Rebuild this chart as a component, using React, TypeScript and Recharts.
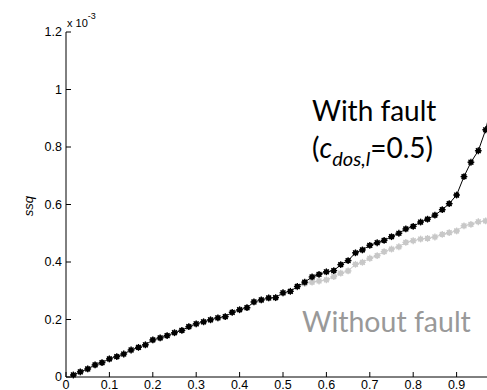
import React from 'react';
import { LineChart, Line, XAxis, YAxis } from 'recharts';

// x positions of the samples (fraction of the run)
const xValues = [
  0.017, 0.033, 0.05, 0.067, 0.083, 0.1, 0.117, 0.133, 0.15, 0.167,
  0.183, 0.2, 0.217, 0.233, 0.25, 0.267, 0.283, 0.3, 0.317, 0.333,
  0.35, 0.367, 0.383, 0.4, 0.417, 0.433, 0.45, 0.467, 0.483, 0.5,
  0.517, 0.533, 0.55, 0.567, 0.583, 0.6, 0.617, 0.633, 0.65, 0.667,
  0.683, 0.7, 0.717, 0.733, 0.75, 0.767, 0.783, 0.8, 0.817, 0.833,
  0.85, 0.867, 0.883, 0.9, 0.917, 0.933, 0.95, 0.967, 0.983, 1.0,
];

// ssq values, in units of 1e-3
const withFault = [
  0.007, 0.018, 0.028, 0.042, 0.05, 0.063, 0.071, 0.08, 0.094, 0.103,
  0.112, 0.129, 0.136, 0.144, 0.154, 0.162, 0.175, 0.185, 0.192, 0.199,
  0.206, 0.21, 0.225, 0.234, 0.241, 0.261, 0.268, 0.275, 0.276, 0.293,
  0.298, 0.315, 0.33, 0.348, 0.357, 0.366, 0.37, 0.391, 0.405, 0.432,
  0.442, 0.458, 0.467, 0.475, 0.488, 0.5, 0.515, 0.524, 0.539, 0.549,
  0.563, 0.582, 0.603, 0.633, 0.697, 0.747, 0.787, 0.86, 0.96, 1.05,
];

const withoutFault = [
  0.007, 0.018, 0.028, 0.042, 0.05, 0.063, 0.071, 0.08, 0.094, 0.103,
  0.112, 0.129, 0.136, 0.144, 0.154, 0.162, 0.175, 0.185, 0.192, 0.199,
  0.206, 0.21, 0.225, 0.234, 0.241, 0.261, 0.268, 0.275, 0.276, 0.293,
  0.298, 0.313, 0.325, 0.33, 0.334, 0.338, 0.349, 0.361, 0.369, 0.392,
  0.399, 0.413, 0.422, 0.436, 0.445, 0.453, 0.468, 0.474, 0.48, 0.482,
  0.487, 0.496, 0.502, 0.508, 0.526, 0.531, 0.54, 0.543, 0.548, 0.553,
];

// the 1.0 tick sits just past the right edge of the picture
const xTicks = [0, 0.1, 0.2, 0.3, 0.4, 0.5, 0.6, 0.7, 0.8, 0.9];
const yTicks = [0, 0.2, 0.4, 0.6, 0.8, 1, 1.2];

const data = xValues.map((x, i) => ({
  x,
  fault: withFault[i],
  normal: withoutFault[i],
}));

const tickStyle = { fill: '#000', fontSize: 12.5, fontFamily: 'Liberation Sans, Arial, sans-serif' };
const annotFont = 'Lato, "Open Sans", sans-serif';

const makeStar = (color: string) => (props: any) => {
  const { cx, cy, index } = props;
  if (cx == null || cy == null) return <g key={index} />;
  const r = 3.4;
  const d = r * 0.707;
  return (
    <g key={index}>
      <circle cx={cx} cy={cy} r={2.6} fill={color} />
      <line x1={cx - r} y1={cy} x2={cx + r} y2={cy} stroke={color} strokeWidth={1.3} />
      <line x1={cx} y1={cy - r} x2={cx} y2={cy + r} stroke={color} strokeWidth={1.3} />
      <line x1={cx - d} y1={cy - d} x2={cx + d} y2={cy + d} stroke={color} strokeWidth={1.3} />
      <line x1={cx - d} y1={cy + d} x2={cx + d} y2={cy - d} stroke={color} strokeWidth={1.3} />
    </g>
  );
};

export default function App() {
  return (
    <div style={{ position: 'fixed', left: 0, top: 0, width: 487, height: 390, overflow: 'hidden', background: '#fff' }}>
      <LineChart width={512} height={407} data={data} margin={{ top: 32, right: 12, left: 26, bottom: 0 }}>
        <XAxis
          dataKey="x"
          type="number"
          domain={[0, 1]}
          ticks={xTicks}
          interval={0}
          tickSize={-5}
          tickMargin={8}
          height={30}
          stroke="#000"
          tick={tickStyle}
        />
        <XAxis
          xAxisId="top"
          dataKey="x"
          type="number"
          orientation="top"
          domain={[0, 1]}
          ticks={xTicks}
          interval={0}
          tickSize={-5}
          height={0}
          stroke="#000"
          tickFormatter={() => ''}
        />
        <YAxis
          type="number"
          domain={[0, 1.2]}
          ticks={yTicks}
          interval={0}
          tickSize={-5}
          tickMargin={9}
          width={40}
          stroke="#000"
          tick={tickStyle}
        />
        <Line
          dataKey="normal"
          stroke="#c8c8c8"
          strokeWidth={1}
          dot={makeStar('#c8c8c8')}
          isAnimationActive={false}
        />
        <Line
          dataKey="fault"
          stroke="#000"
          strokeWidth={1}
          dot={makeStar('#000')}
          isAnimationActive={false}
        />
      </LineChart>
      <svg width={487} height={390} style={{ position: 'absolute', left: 0, top: 0, pointerEvents: 'none' }}>
        <text x={67} y={27} fontSize={11} fontFamily="Liberation Sans, Arial, sans-serif" fill="#000">
          x 10
          <tspan fontSize={9} dy={-8}>-3</tspan>
        </text>
        <text
          x={33}
          y={206}
          transform="rotate(-90 33 206)"
          textAnchor="middle"
          fontSize={13}
          fontStyle="italic"
          fontFamily="Liberation Sans, Arial, sans-serif"
          fill="#000"
        >
          ssq
        </text>
        <text x={312} y={121} fontSize={28} fontFamily={annotFont} fill="#000">
          With fault
        </text>
        <text x={312} y={158} fontSize={28} fontFamily={annotFont} fill="#000">
          (<tspan fontStyle="italic">c</tspan>
          <tspan fontStyle="italic" fontSize={20} dy={8}>dos,l</tspan>
          <tspan dy={-8}>=0.5)</tspan>
        </text>
        <text x={302} y={332} fontSize={28.5} fontFamily={annotFont} fill="#999">
          Without fault
        </text>
      </svg>
    </div>
  );
}
